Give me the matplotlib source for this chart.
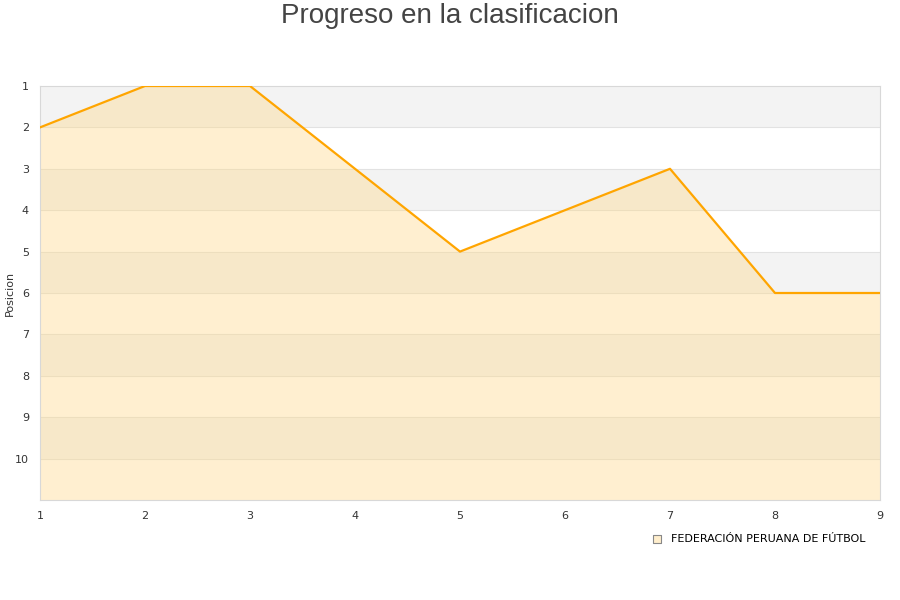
import matplotlib.pyplot as plt
import numpy as np

# Datos: jornadas y posicion en la clasificacion
jornadas = [1, 2, 3, 4, 5, 6, 7, 8, 9]
posicion = [2, 1, 1, 3, 5, 4, 3, 6, 6]
equipo = "FEDERACIÓN PERUANA DE FÚTBOL"
y_ticks = [1, 2, 3, 4, 5, 6, 7, 8, 9, 10]

fig = plt.figure(figsize=(9, 6), dpi=100)
ax = fig.add_axes([40 / 900, 1 - 500 / 600, 840 / 900, 414 / 600])

# bandas alternas de fondo
for y0 in range(1, 11, 2):
    ax.axhspan(y0, y0 + 1, color="#f3f3f3", zorder=0, lw=0)
for y in range(2, 11):
    ax.axhline(y, color="#e2e2e2", lw=0.8, zorder=1)

ax.fill_between(jornadas, posicion, 11, color="#ffd98a", alpha=0.4, lw=0, zorder=2)
ax.plot(jornadas, posicion, color="#ffa500", lw=1.6, zorder=3)

ax.set_xlim(1, 9)
ax.set_ylim(11, 1)
ax.set_xticks(jornadas)
ax.set_yticks(y_ticks)
ax.tick_params(axis="both", length=0, labelsize=8, colors="#333333", pad=8)
for s in ax.spines.values():
    s.set_color("#d8d8d8")
ax.set_ylabel("Posicion", fontsize=8, color="#333333")
ax.yaxis.set_label_coords(-0.03, 0.5)

fig.suptitle("Progreso en la clasificacion", fontsize=20, color="#444444", y=0.995,
             family="Liberation Sans")

ax.scatter([], [], marker="s", s=40, facecolor="#ffeecc", edgecolor="#888888",
           linewidths=0.8, label=equipo)
ax.legend(loc="upper right", bbox_to_anchor=(0.988, -0.072), frameon=False,
          fontsize=8, handletextpad=0.3, borderaxespad=0)

fig.savefig("out.png", dpi=100)
